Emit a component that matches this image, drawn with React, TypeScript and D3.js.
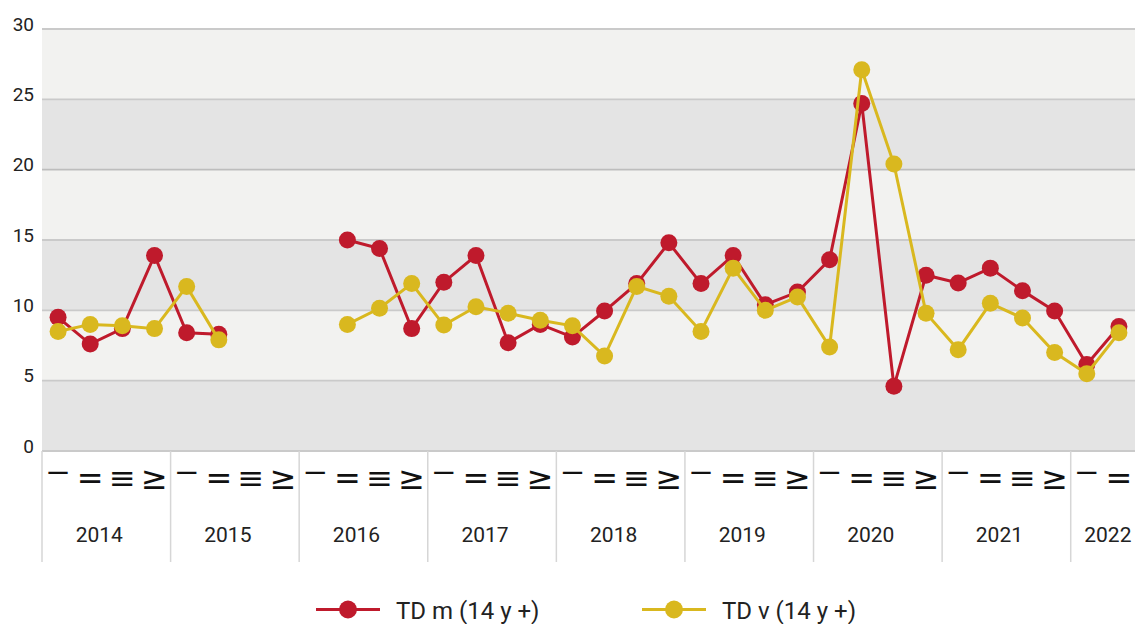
import React from "react";
import * as d3 from "d3";

const years = ["2014", "2015", "2016", "2017", "2018", "2019", "2020", "2021", "2022"];
const quarterLabels = ["¯", "=", "≡", "≥"];
const quartersPerYear = [4, 4, 4, 4, 4, 4, 4, 4, 2];

const tdM: (number | null)[] = [
  9.5, 7.6, 8.7, 13.9,
  8.4, 8.3, null, null,
  null, 15.0, 14.4, 8.7,
  12.0, 13.9, 7.7, 9.0,
  8.1, 9.95, 11.9, 14.8,
  11.9, 13.9, 10.4, 11.3,
  13.6, 24.7, 4.6, 12.5,
  11.95, 13.0, 11.4, 9.95,
  6.15, 8.85,
];
const tdV: (number | null)[] = [
  8.5, 9.0, 8.9, 8.7,
  11.7, 7.9, null, null,
  null, 9.0, 10.15, 11.9,
  8.95, 10.25, 9.8, 9.3,
  8.9, 6.75, 11.7, 11.0,
  8.5, 13.0, 10.0, 10.95,
  7.4, 27.1, 20.4, 9.8,
  7.2, 10.5, 9.45, 7.0,
  5.5, 8.4,
];
const yTicks = [0, 5, 10, 15, 20, 25, 30];
const seriesNames = ["TD m (14 y +)", "TD v (14 y +)"];
const seriesColors = ["#bf1a2c", "#d9b81f"];

const W = 1135;
const H = 624;
const M = { left: 42, right: 0, top: 29, bottom: 451 };
const FONT = "Roboto, 'DejaVu Sans', sans-serif";

export default function App() {
  const categories: string[] = [];
  years.forEach((y, i) => {
    for (let q = 0; q < quartersPerYear[i]; q++) categories.push(`${y}-Q${q + 1}`);
  });
  const x = d3.scaleBand<string>().domain(categories).range([M.left, W - M.right]).padding(0);
  const y = d3.scaleLinear().domain([0, 30]).range([M.bottom, M.top]);
  const cx = (c: string) => (x(c) as number) + x.bandwidth() / 2;

  const bands = d3.range(0, 30, 5);
  const line = d3
    .line<number | null>()
    .defined((d) => d !== null)
    .x((_, i) => cx(categories[i]))
    .y((d) => y(d as number));

  let idx = 0;
  const yearSpans = years.map((yr, i) => {
    const start = x(categories[idx]) as number;
    const end = (x(categories[idx + quartersPerYear[i] - 1]) as number) + x.bandwidth();
    const qs = categories.slice(idx, idx + quartersPerYear[i]);
    idx += quartersPerYear[i];
    return { yr, start, end, qs };
  });

  const series = [tdM, tdV];
  const legendX = [316, 642];

  return (
    <svg width={W} height={H} style={{ position: "absolute", left: 0, top: 0, background: "#fff" }} fontFamily={FONT}>
      {bands.map((b, i) => (
        <rect
          key={b}
          x={M.left}
          width={W - M.right - M.left}
          y={y(b + 5)}
          height={y(b) - y(b + 5)}
          fill={i % 2 === 0 ? "#e4e4e4" : "#f2f2f0"}
        />
      ))}
      {yTicks.map((t) => (
        <g key={t}>
          <line
            x1={M.left}
            x2={W - M.right}
            y1={y(t)}
            y2={y(t)}
            stroke={t === 20 ? "#bdbdbd" : "#cacaca"}
            strokeWidth={t === 0 ? 2 : 1.8}
          />
          <text x={34} y={y(t) + 1.5} textAnchor="end" fontSize={19} fill="#222">
            {t}
          </text>
        </g>
      ))}
      {yearSpans.map((s) => {
        const full = s.qs.length === 4;
        return (
          <g key={s.yr}>
            <line x1={s.start} x2={s.start} y1={M.bottom} y2={562} stroke="#d6d6d6" strokeWidth={1.5} />
            {s.qs.map((c, qi) =>
              qi === 0 ? (
                <text
                  key={c}
                  x={0}
                  y={0}
                  textAnchor="middle"
                  fontSize={30}
                  fill="#111"
                  fontFamily="'DejaVu Sans', sans-serif"
                  transform={`translate(${cx(c)},${494}) scale(2.2,1)`}
                >
                  {quarterLabels[qi]}
                </text>
              ) : (
                <text
                  key={c}
                  x={cx(c)}
                  y={489}
                  textAnchor="middle"
                  fontSize={32}
                  fill="#111"
                  fontFamily="'DejaVu Sans', sans-serif"
                >
                  {quarterLabels[qi]}
                </text>
              )
            )}
            <text x={(s.start + s.end) / 2 + (full ? -7 : 5)} y={542} textAnchor="middle" fontSize={21} fill="#222">
              {s.yr}
            </text>
          </g>
        );
      })}
      {series.map((data, si) => (
        <g key={si}>
          <path d={line(data) || ""} fill="none" stroke={seriesColors[si]} strokeWidth={3} />
          {data.map((d, i) =>
            d === null ? null : <circle key={i} cx={cx(categories[i])} cy={y(d)} r={8.5} fill={seriesColors[si]} />
          )}
        </g>
      ))}
      {seriesNames.map((n, i) => {
        const lx = legendX[i];
        return (
          <g key={n}>
            <line x1={lx} x2={lx + 64} y1={609.5} y2={609.5} stroke={seriesColors[i]} strokeWidth={3} />
            <circle cx={lx + 32} cy={609.5} r={9} fill={seriesColors[i]} />
            <text x={lx + 80} y={619} fontSize={24} fill="#222">
              {n}
            </text>
          </g>
        );
      })}
    </svg>
  );
}
